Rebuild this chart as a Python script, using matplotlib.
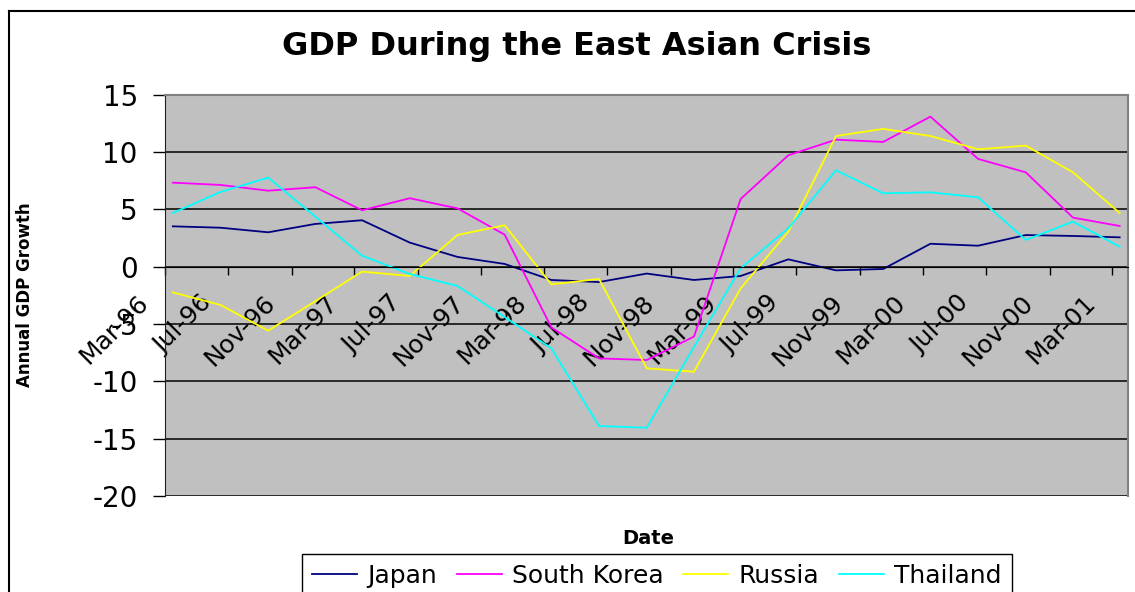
import matplotlib
matplotlib.use('Agg')
import matplotlib.pyplot as plt
import matplotlib.dates as mdates
import matplotlib.transforms as mtransforms
from matplotlib.lines import Line2D
import pandas as pd

plt.rcParams['font.family'] = ['DejaVu Sans']
plt.rcParams['axes.unicode_minus'] = False

# quarterly observations, Mar-96 .. Mar-01
quarters = ['1996-03', '1996-06', '1996-09', '1996-12',
            '1997-03', '1997-06', '1997-09', '1997-12',
            '1998-03', '1998-06', '1998-09', '1998-12',
            '1999-03', '1999-06', '1999-09', '1999-12',
            '2000-03', '2000-06', '2000-09', '2000-12',
            '2001-03']

japan = [3.52, 3.40, 3.00, 3.73, 4.05, 2.10, 0.85, 0.24, -1.16, -1.34, -0.60,
         -1.16, -0.81, 0.64, -0.32, -0.20, 2.00, 1.83, 2.76, 2.68, 2.56]
south_korea = [7.33, 7.13, 6.63, 6.93, 4.92, 5.97, 5.09, 2.79, -5.30, -8.00, -8.14,
               -6.10, 5.90, 9.72, 11.08, 10.88, 13.09, 9.40, 8.23, 4.28, 3.55]
russia = [-2.24, -3.34, -5.58, -3.00, -0.43, -0.81, 2.77, 3.61, -1.54, -1.07, -8.87,
          -9.16, -1.90, 3.06, 11.40, 12.02, 11.40, 10.24, 10.56, 8.23, 4.68]
thailand = [4.68, 6.52, 7.77, 4.36, 0.96, -0.64, -1.68, -4.39, -7.12, -13.90, -14.05,
            -7.00, -0.14, 3.35, 8.41, 6.40, 6.49, 6.05, 2.33, 3.93, 1.75]

series = [('Japan', japan, '#000080'),
          ('South Korea', south_korea, '#FF00FF'),
          ('Russia', russia, '#FFFF00'),
          ('Thailand', thailand, '#00FFFF')]

# points sit in the middle of their month, like an Excel date axis
dates = pd.to_datetime(quarters) + pd.Timedelta(days=15)

fig = plt.figure(figsize=(11.35, 5.92), dpi=100)
ax = fig.add_axes([0.1454, 0.1622, 0.8484, 0.6778])
ax.set_facecolor('#C0C0C0')

for name, vals, col in series:
    ax.plot(dates, vals, color=col, lw=1.3, label=name)

ax.set_ylim(-20, 15)
ax.set_yticks(range(-20, 16, 5))
ax.set_xlim(pd.Timestamp('1996-03-01'), pd.Timestamp('2001-04-01'))
ax.xaxis.set_major_locator(mdates.MonthLocator(bymonth=[3, 7, 11]))
ax.xaxis.set_major_formatter(mdates.DateFormatter('%b-%y'))

ax.grid(axis='y', color='black', lw=1.1)
ax.set_axisbelow(True)

# category axis crosses at zero
ax.spines['bottom'].set_position(('data', 0))
ax.spines['bottom'].set_color('black')
ax.spines['left'].set_color('#202020')
for s in ['top', 'right']:
    ax.spines[s].set_color('#808080')
    ax.spines[s].set_linewidth(1.5)

ax.tick_params(axis='x', direction='out', length=6, width=1, labelsize=18, pad=7)
ax.tick_params(axis='y', direction='out', length=8.6, width=1, labelsize=20, pad=11)
plt.setp(ax.get_xticklabels(), rotation=45, ha='right')

fig.text(0.508, 1 - 47 / 592, 'GDP During the East Asian Crisis',
         ha='center', va='center', fontsize=23, fontweight='bold')
fig.text(25 / 1135, 1 - 295 / 592, 'Annual GDP Growth', rotation=90,
         ha='center', va='center', fontsize=12, fontweight='bold')
fig.text(648 / 1135, 1 - 538 / 592, 'Date', ha='center', va='center',
         fontsize=14, fontweight='bold')

leg = fig.legend(loc='upper left', bbox_to_anchor=(302 / 1135, 1 - 554 / 592),
                 ncol=4, frameon=True, fancybox=False, edgecolor='black',
                 fontsize=18, handlelength=1.8, handletextpad=0.4,
                 columnspacing=0.8, borderpad=0.4, borderaxespad=0,
                 framealpha=1)
leg.get_frame().set_linewidth(1)

# outer chart border (only top and left visible in the crop)
fig.add_artist(Line2D([8.5 / 1135, 1], [1 - 10.5 / 592] * 2,
                      transform=fig.transFigure, color='black', lw=1.5))
fig.add_artist(Line2D([8.5 / 1135] * 2, [0, 1 - 10.5 / 592],
                      transform=fig.transFigure, color='black', lw=1.5))

# date labels sit a bit left of and below their ticks
shift = mtransforms.ScaledTranslation(-0.12, -0.06, fig.dpi_scale_trans)
for lab in ax.xaxis.get_majorticklabels():
    lab.set_transform(lab.get_transform() + shift)

fig.savefig('out.png', dpi=100)
